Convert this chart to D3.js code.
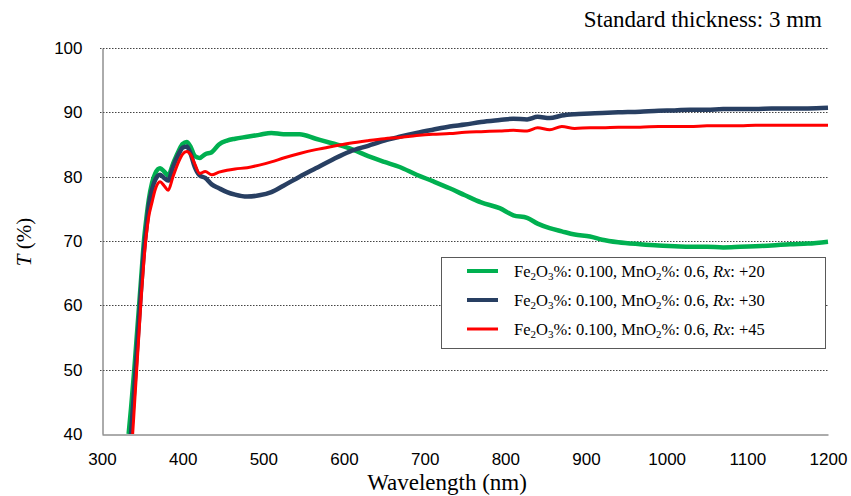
<!DOCTYPE html>
<html>
<head>
<meta charset="utf-8">
<script src="https://cdn.jsdelivr.net/npm/d3@7"></script>
<style>
  body { margin: 0; background: #fff; }
</style>
</head>
<body>
<div class="canvas"></div>
<script>
// data
const wavelengths = [333, 336, 338, 340, 343, 346, 349, 352, 355, 358, 362, 366, 372, 377, 382, 388, 395, 400, 405, 410, 415, 421, 428, 436, 445, 455, 465, 480, 495, 510, 525, 545, 565, 585, 607, 630, 650, 669, 690, 710, 731, 750, 770, 793, 810, 827, 840, 855, 870, 886, 905, 920, 940, 967, 990, 1010, 1029, 1050, 1070, 1091, 1110, 1130, 1153, 1175, 1200]

const rx20 = [40, 44, 47, 50, 55, 60, 65, 70, 73.5, 76.4, 79, 80.5, 81.3, 80.8, 80.2, 82, 84, 85.1, 85.4, 84.6, 83.2, 82.9, 83.5, 83.8, 85, 85.6, 85.9, 86.2, 86.5, 86.8, 86.6, 86.6, 85.9, 85.2, 84.4, 83.2, 82.3, 81.5, 80.3, 79.3, 78.2, 77.1, 76.0, 75.1, 74.0, 73.6, 72.7, 72.0, 71.5, 71.0, 70.7, 70.2, 69.8, 69.5, 69.3, 69.2, 69.1, 69.1, 69.0, 69.1, 69.2, 69.3, 69.5, 69.6, 69.9]

const rx30 = [35.5, 40, 43.5, 47, 52.5, 58, 63.5, 68.5, 72, 75.5, 78, 79.5, 80.3, 79.8, 79.4, 81.5, 83.5, 84.5, 84.7, 83.5, 81.5, 80.2, 79.8, 78.8, 78.2, 77.6, 77.2, 76.9, 77.1, 77.6, 78.6, 80.0, 81.3, 82.6, 83.9, 84.8, 85.6, 86.2, 86.8, 87.3, 87.8, 88.1, 88.5, 88.8, 89.0, 88.9, 89.3, 89.1, 89.5, 89.7, 89.8, 89.9, 90.0, 90.1, 90.25, 90.3, 90.4, 90.4, 90.5, 90.5, 90.5, 90.6, 90.6, 90.6, 90.7]

const rx45 = [32, 37, 40, 44, 50, 56, 62, 67, 71, 73.8, 76, 78, 79.2, 78.6, 77.9, 80, 82.3, 83.5, 83.9, 83.4, 82, 80.5, 80.8, 80.3, 80.7, 81.0, 81.2, 81.4, 81.8, 82.3, 82.9, 83.6, 84.2, 84.7, 85.2, 85.6, 85.9, 86.1, 86.4, 86.6, 86.7, 86.9, 87.0, 87.1, 87.2, 87.1, 87.6, 87.3, 87.8, 87.5, 87.6, 87.6, 87.7, 87.7, 87.8, 87.8, 87.8, 87.9, 87.9, 87.9, 88.0, 88.0, 88.0, 88.0, 88.0]

const seriesNames = ["+20", "+30", "+45"]
const seriesColors = ["#00B050", "#283F62", "#FF0000"]
const seriesWidths = [4.5, 4.5, 3]
const xTicks = [300, 400, 500, 600, 700, 800, 900, 1000, 1100, 1200]
const yTicks = [40, 50, 60, 70, 80, 90, 100]

// settings
const svgWidth = 851
const svgHeight = 496
const plot = {left: 102, right: 828, top: 48, bottom: 434}
const serif = "'Liberation Serif', 'Times New Roman', serif"
const sans = "'Liberation Sans', Arial, sans-serif"

const svg = d3.select(".canvas")
    .append("svg")
    .attr("width", svgWidth)
    .attr("height", svgHeight)

const x = d3.scaleLinear().domain([300, 1200]).range([plot.left, plot.right])
const y = d3.scaleLinear().domain([40, 100]).range([plot.bottom, plot.top])

// gridlines
svg.append("g")
    .selectAll("line")
    .data(yTicks.filter(d => d > 40))
    .enter()
    .append("line")
        .attr("x1", plot.left - 2)
        .attr("x2", plot.right)
        .attr("y1", d => Math.round(y(d)) + 0.5)
        .attr("y2", d => Math.round(y(d)) + 0.5)
        .attr("stroke", "#444")
        .attr("stroke-width", 1)
        .attr("stroke-dasharray", "1.5,1.5")

// axes
const xAxis = svg.append("g")
    .attr("transform", `translate(0, ${plot.bottom + 0.5})`)
    .call(d3.axisBottom(x).tickValues(xTicks).tickSize(0).tickPadding(18).tickFormat(d3.format("d")))
xAxis.select(".domain").attr("stroke", "#595959")
xAxis.selectAll("text").attr("font-family", sans).attr("font-size", 17).attr("fill", "#000")

const yAxis = svg.append("g")
    .attr("transform", `translate(${plot.left + 0.5}, 0)`)
    .call(d3.axisLeft(y).tickValues(yTicks).tickSize(0).tickPadding(20))
yAxis.select(".domain").attr("stroke", "#595959")
yAxis.selectAll("text").attr("font-family", sans).attr("font-size", 17).attr("fill", "#000")

// clip so the curves stop at the bottom axis
svg.append("clipPath").attr("id", "clip")
    .append("rect")
    .attr("x", plot.left).attr("y", plot.top - 5)
    .attr("width", plot.right - plot.left + 2).attr("height", plot.bottom - plot.top + 5)

const line = d3.line()
    .x((d, i) => x(wavelengths[i]))
    .y(d => y(d))
    .curve(d3.curveMonotoneX)

const allSeries = [rx20, rx30, rx45]
svg.append("g")
    .attr("clip-path", "url(#clip)")
    .selectAll("path")
    .data(allSeries)
    .enter()
    .append("path")
        .attr("d", d => line(d))
        .attr("fill", "none")
        .attr("stroke", (d, i) => seriesColors[i])
        .attr("stroke-width", (d, i) => seriesWidths[i])
        .attr("stroke-linejoin", "round")

// title
svg.append("text")
    .attr("x", 822)
    .attr("y", 27)
    .attr("text-anchor", "end")
    .attr("font-family", serif)
    .attr("font-size", 23)
    .text("Standard thickness: 3 mm")

// axis titles
svg.append("text")
    .attr("x", 447)
    .attr("y", 490)
    .attr("text-anchor", "middle")
    .attr("font-family", serif)
    .attr("font-size", 23)
    .text("Wavelength (nm)")

const yTitle = svg.append("text")
    .attr("transform", "translate(31, 242) rotate(-90)")
    .attr("text-anchor", "middle")
    .attr("font-family", serif)
    .attr("font-size", 21)
yTitle.append("tspan").attr("font-style", "italic").text("T")
yTitle.append("tspan").text(" (%)")

// legend
const legend = svg.append("g")
legend.append("rect")
    .attr("x", 441.5).attr("y", 257.5)
    .attr("width", 384).attr("height", 91)
    .attr("fill", "#fff")
    .attr("stroke", "#595959")

const rows = legend.selectAll("g.row")
    .data(seriesNames)
    .enter()
    .append("g")
        .attr("transform", (d, i) => `translate(0, ${271 + i * 29})`)

rows.append("line")
    .attr("x1", 467).attr("x2", 498)
    .attr("y1", 0).attr("y2", 0)
    .attr("stroke", (d, i) => seriesColors[i])
    .attr("stroke-width", (d, i) => i < 2 ? 4 : 3)

const label = rows.append("text")
    .attr("x", 514)
    .attr("y", 5.5)
    .attr("font-family", serif)
    .attr("font-size", 16.5)
    .attr("fill", "#000")

label.each(function(d) {
    const t = d3.select(this)
    t.append("tspan").text("Fe")
    t.append("tspan").attr("font-size", 11).attr("dy", 3).text("2")
    t.append("tspan").attr("dy", -3).text("O")
    t.append("tspan").attr("font-size", 11).attr("dy", 3).text("3")
    t.append("tspan").attr("dy", -3).text("%: 0.100, MnO")
    t.append("tspan").attr("font-size", 11).attr("dy", 3).text("2")
    t.append("tspan").attr("dy", -3).text("%: 0.6, ")
    t.append("tspan").attr("font-style", "italic").text("Rx")
    t.append("tspan").text(": " + d)
})
</script>
</body>
</html>
